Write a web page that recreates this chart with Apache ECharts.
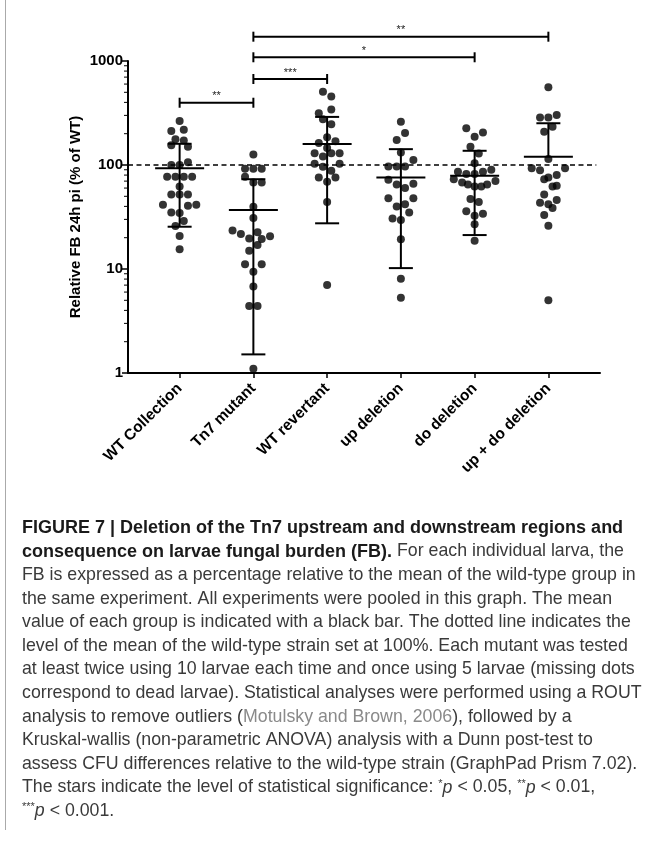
<!DOCTYPE html>
<html><head><meta charset="utf-8">
<script src="https://cdn.jsdelivr.net/npm/echarts@6/dist/echarts.min.js"></script>
<style>html,body{margin:0;padding:0;background:#fff}#c{width:652px;height:841px}</style>
</head><body><div id="c"></div>
<script>
// ---------------- data ----------------
const categories = ['WT Collection', 'Tn7 mutant', 'WT revertant', 'up deletion', 'do deletion', 'up + do deletion'];
// each point: [horizontal spread lane, value (% of WT)]
const wtCollection = [[0,265],[-2,212],[1,218],[-1,177],[1,172],[-2,155],[2,150],[2,106],[-2,100],[0,100],
  [-3,77],[-1,77],[1,77],[3,77],[0,62],[-2,52],[0,52],[2,52],[-4,41.5],[2,40.5],[4,41.5],[-2,35],[0,34.5],
  [1,29],[-1,25.9],[0,20.8],[0,15.5]];
const tn7Mutant = [[0,126],[-2,92],[0,92],[2,92],[-2,77],[0,68],[2,68],[0,39.7],[0,31],[-5,23.4],[1,22.5],
  [-3,21.7],[4,20.6],[-1,19.7],[2,19.4],[1,17],[-1,15],[-2,11.1],[2,11.1],[0,9.4],[0,6.8],[-1,4.4],[1,4.4],[0,1.1]];
const wtRevertant = [[-1,507],[1,456],[1,342],[-2,314],[-1,275],[1,247],[0,185],[-2,163],[2,169],[0,146],
  [-3,130],[1,130],[3,130],[-1,121],[-3,103],[3,103],[-1,96],[1,88],[-2,76],[2,76],[0,69],[0,44],[0,7.0]];
const upDeletion = [[0,261],[1,203],[-1,174],[0,132],[3,112],[-3,97],[-1,97],[1,97],[-3,72],[3,66],[-1,65],
  [1,60],[-3,48],[3,48],[1,42],[-1,40],[2,35],[-2,30.6],[0,29.6],[0,19.3],[0,8.05],[0,5.3]];
const doDeletion = [[-2,225],[2,205],[0,187],[-1,150],[1,129],[0,104],[4,90],[-4,86],[2,86],[-2,82],[0,82],
  [-5,73],[5,70],[-3,68],[-1.6,65],[3,65],[0,62],[1.6,62],[-1,47],[1,44],[-2,36],[2,34],[0,32.5],[0,26.9],[0,18.7]];
const upDoDeletion = [[0,558],[2,303],[-2,286],[0,286],[1,233],[-1,209],[0,114],[-4,93],[4,93],[-2,89],[2,80],
  [0,76],[-1,73],[2,63],[1,62],[-1,52],[2,46],[-2,43.4],[0,42],[1,38.6],[-1,33],[0,26],[0,5.0]];
const groups = [wtCollection, tn7Mutant, wtRevertant, upDeletion, doDeletion, upDoDeletion];
const means = [93, 37, 159, 76, 79, 120];
const sdUpper = [160, 73, 290, 142, 137, 252];
const sdLower = [25.5, 1.51, 27.5, 10.2, 21.2, null];
const yTickLabels = ['1', '10', '100', '1000'];
const referenceLevel = 100;
const bracketFrom = [1, 1, 1, 0];
const bracketTo = [5, 4, 2, 1];
const bracketLevel = [1713, 1086, 671, 397];
const bracketStars = ['**', '*', '***', '**'];

const captionLines = [
  '{b|FIGURE 7 | Deletion of the Tn7 upstream and downstream regions and}',
  '{b|consequence on larvae fungal burden (FB).} For each individual larva, the',
  'FB is expressed as a percentage relative to the mean of the wild-type group in',
  'the same experiment. All experiments were pooled in this graph. The mean',
  'value of each group is indicated with a black bar. The dotted line indicates the',
  'level of the mean of the wild-type strain set at 100%. Each mutant was tested',
  'at least twice using 10 larvae each time and once using 5 larvae (missing dots',
  'correspond to dead larvae). Statistical analyses were performed using a ROUT',
  'analysis to remove outliers ({g|Motulsky and Brown, 2006}), followed by a',
  'Kruskal-wallis (non-parametric ANOVA) analysis with a Dunn post-test to',
  'assess CFU differences relative to the wild-type strain (GraphPad Prism 7.02).',
  'The stars indicate the level of statistical significance: {s|*}{i|p} < 0.05, {s|**}{i|p} < 0.01,',
  '{s|***}{i|p} < 0.001.'
];

// ---------------- layout / style ----------------
const FONT = '"Liberation Sans", Arial, Helvetica, sans-serif';
const CAP_SIZE = 17.75;
const CAP_BOLD = 18;
const X_MIN = -0.7, X_MAX = 5.7;
const LANE = 0.0565;
const GL = 128, GT = 61, GW = 472, GH = 312;
const PX_PER_CAT = GW / (X_MAX - X_MIN);

const dots = [];
groups.forEach((g, gi) => g.forEach(([lane, v]) => dots.push([gi + lane * LANE, v])));
const minorTicks = [];
for (let d = 1; d < 1000; d *= 10) for (let m = 2; m <= 9; m++) minorTicks.push(m * d);

const chart = echarts.init(document.getElementById('c'), null, {renderer: 'canvas'});

const blackLine = {stroke: '#000', lineWidth: 2};

chart.setOption({
  backgroundColor: '#fff',
  animation: false,
  grid: [
    {left: GL, top: GT, width: GW, height: GH},
    {left: GL + (0 - X_MIN - 0.5) * PX_PER_CAT, top: GT, width: categories.length * PX_PER_CAT, height: GH}
  ],
  xAxis: [
    {type: 'value', gridIndex: 0, min: X_MIN, max: X_MAX,
     axisLine: {show: true, onZero: false, lineStyle: {color: '#000', width: 2}},
     axisTick: {show: false}, axisLabel: {show: false}, splitLine: {show: false}},
    {type: 'category', gridIndex: 1, data: categories, boundaryGap: true,
     axisLine: {show: false, onZero: false},
     axisTick: {show: true, alignWithLabel: true, length: 5, lineStyle: {color: '#000', width: 1.5}},
     axisLabel: {interval: 0, rotate: 45, margin: 13, color: '#000', fontSize: 15.5,
       fontWeight: 'bold', fontFamily: FONT},
     splitLine: {show: false}}
  ],
  yAxis: [
    {type: 'log', logBase: 10, gridIndex: 0, min: 1, max: 1000,
     axisLine: {show: true, onZero: false, lineStyle: {color: '#000', width: 2}},
     axisTick: {show: true, length: 6, lineStyle: {color: '#000', width: 1.5}},
     axisLabel: {margin: 5, color: '#000', fontSize: 15, fontWeight: 'bold', fontFamily: FONT,
       formatter: v => yTickLabels.find(t => +t === Math.round(v)) || ''},
     splitLine: {show: false},
     name: 'Relative FB 24h pi (% of WT)', nameLocation: 'middle', nameGap: 45, nameMoveOverlap: false,
     nameTextStyle: {color: '#000', fontSize: 15, fontWeight: 'bold', fontFamily: FONT}},
    {type: 'value', gridIndex: 1, show: false}
  ],
  series: [
    { // minor ticks of the log axis
      type: 'custom', xAxisIndex: 0, yAxisIndex: 0, clip: false, silent: true,
      data: minorTicks.map(v => [X_MIN, v]),
      renderItem(params, api) {
        const p = api.coord([api.value(0), api.value(1)]);
        return {type: 'line', shape: {x1: p[0] - 4, y1: p[1], x2: p[0], y2: p[1]}, style: {stroke: '#000', lineWidth: 1}};
      }
    },
    { // dashed 100% reference line
      type: 'line', xAxisIndex: 0, yAxisIndex: 0, silent: true, symbol: 'none',
      data: [[X_MIN, referenceLevel], [5.65, referenceLevel]],
      lineStyle: {color: '#000', width: 1.5, type: [5, 3.5]}, z: 1
    },
    {
      type: 'scatter', xAxisIndex: 0, yAxisIndex: 0, data: dots,
      symbol: 'circle', symbolSize: 8, itemStyle: {color: '#000'}, z: 3
    },
    { // mean bars and SD error bars
      type: 'custom', xAxisIndex: 0, yAxisIndex: 0, clip: false, z: 4,
      data: categories.map((c, i) => [i, means[i], sdLower[i] == null ? means[i] : sdLower[i], sdUpper[i]]),
      renderItem(params, api) {
        const i = api.value(0);
        const m = api.coord([i, api.value(1)]);
        const lo = api.coord([i, api.value(2)]);
        const hi = api.coord([i, api.value(3)]);
        const ch = [
          {type: 'line', shape: {x1: m[0] - 24.5, y1: m[1], x2: m[0] + 24.5, y2: m[1]}, style: blackLine},
          {type: 'line', shape: {x1: hi[0], y1: hi[1], x2: lo[0], y2: lo[1]}, style: blackLine},
          {type: 'line', shape: {x1: hi[0] - 12, y1: hi[1], x2: hi[0] + 12, y2: hi[1]}, style: blackLine}
        ];
        if (sdLower[params.dataIndex] != null)
          ch.push({type: 'line', shape: {x1: lo[0] - 12, y1: lo[1], x2: lo[0] + 12, y2: lo[1]}, style: blackLine});
        return {type: 'group', children: ch};
      }
    },
    { // significance brackets
      type: 'custom', xAxisIndex: 0, yAxisIndex: 0, clip: false, z: 4,
      data: bracketFrom.map((f, k) => [f, bracketTo[k], bracketLevel[k]]),
      renderItem(params, api) {
        const a = api.coord([api.value(0), api.value(2)]);
        const b = api.coord([api.value(1), api.value(2)]);
        return {type: 'group', children: [
          {type: 'line', shape: {x1: a[0], y1: a[1], x2: b[0], y2: b[1]}, style: blackLine},
          {type: 'line', shape: {x1: a[0], y1: a[1] - 5, x2: a[0], y2: a[1] + 5}, style: blackLine},
          {type: 'line', shape: {x1: b[0], y1: b[1] - 5, x2: b[0], y2: b[1] + 5}, style: blackLine},
          {type: 'text', style: {text: bracketStars[params.dataIndex], x: (a[0] + b[0]) / 2, y: a[1] - 1,
            align: 'center', verticalAlign: 'bottom', fill: '#222', font: '11px ' + FONT}}
        ]};
      }
    }
  ],
  graphic: [
    {type: 'line', shape: {x1: 5.5, y1: 0, x2: 5.5, y2: 830}, style: {stroke: '#aaa', lineWidth: 1}, silent: true}
  ].concat(captionLines.map((t, i) => ({
    type: 'text', silent: true,
    style: {
      text: t, x: 22, y: 528 + i * 23.6, verticalAlign: 'middle', align: 'left',
      fill: '#3a3a3a', font: CAP_SIZE + 'px ' + FONT,
      rich: {
        b: {fontWeight: 'bold', fill: '#1a1a1a', fontSize: CAP_BOLD, fontFamily: FONT},
        g: {fill: '#8a8a8a', fontSize: CAP_SIZE, fontFamily: FONT},
        i: {fontStyle: 'italic', fontSize: CAP_SIZE, fontFamily: FONT, fill: '#3a3a3a'},
        s: {fontSize: 11, fontFamily: FONT, padding: [0, 0, 8, 0], fill: '#3a3a3a'}
      }
    }
  })))
});
</script></body></html>
